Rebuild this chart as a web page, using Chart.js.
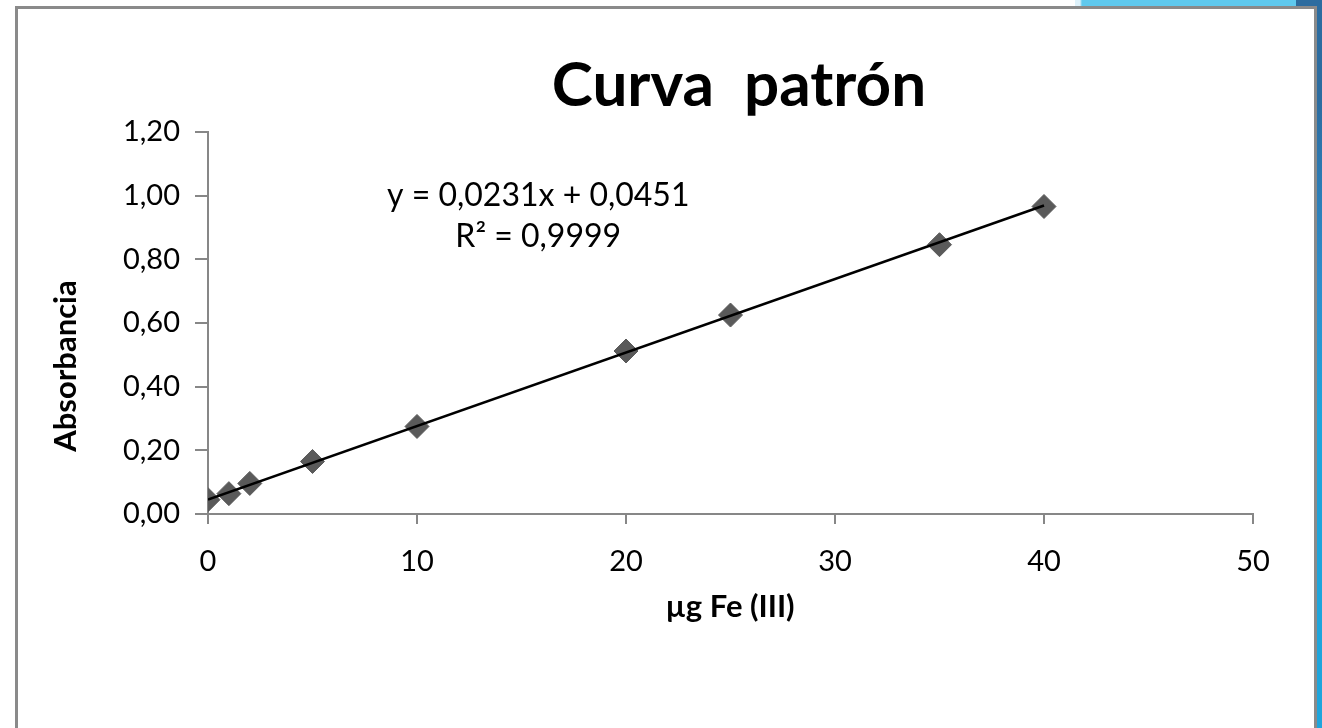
<!DOCTYPE html>
<html>
<head>
<meta charset="utf-8">
<script src="https://cdn.jsdelivr.net/npm/chart.js@4"></script>
<style>
  html, body { margin: 0; padding: 0; width: 1322px; height: 728px; overflow: hidden; background: #ffffff; }
  #fondo { position: absolute; left: 0; top: 0; width: 1322px; height: 728px;
    background: linear-gradient(180deg, #2c6ca0 0px, #2c6ca0 100px, #2f8dcb 280px, #1fa5dc 420px, #1fa5dc 728px) right top / 8px 728px no-repeat,
                linear-gradient(90deg, #ffffff 0px, #ffffff 1075px, #def2fb 1075px, #def2fb 1080px, #5fc9ee 1082px, #5fc9ee 1296px, #2d6c9f 1296px) left top / 1322px 8px no-repeat,
                #ffffff; }
  #marco { position: absolute; left: 15px; top: 6px; width: 1296px; height: 760px;
    border: 3px solid #8a8a8a; background: #ffffff; }
  canvas { position: absolute; left: 0; top: 0; }
</style>
</head>
<body>
<div id="fondo"></div>
<div id="marco"></div>
<canvas id="curva" width="1322" height="728"></canvas>
<script>
// datos de la curva patrón
const microgramos = [0, 1, 2, 5, 10, 20, 25, 35, 40];
const absorbancia = [0.045, 0.064, 0.096, 0.165, 0.275, 0.512, 0.625, 0.846, 0.966];

// línea de tendencia (extremos)
const tendenciaX = [0, 40];
const tendenciaY = [0.0451, 0.9691];

const ecuacion = ['y = 0,0231x + 0,0451', 'R² = 0,9999'];
const titulo = 'Curva  patrón';
const tituloX = 'µg Fe (III)';
const tituloY = 'Absorbancia';

const fuente = 'Lato, "Open Sans", sans-serif';

// textos dibujados a mano (título, ejes, ecuación)
const textos = {
  id: 'textos',
  afterDraw(chart) {
    const ctx = chart.ctx;
    const xs = chart.scales.x, ys = chart.scales.y;
    ctx.save();
    ctx.fillStyle = '#000000';
    ctx.textAlign = 'center';
    ctx.textBaseline = 'middle';

    ctx.font = 'bold 62px ' + fuente;
    ctx.fillText(titulo, 739, 86);

    ctx.font = 'bold 31px ' + fuente;
    ctx.fillText(tituloX, 730, 607);

    ctx.save();
    ctx.translate(66, 366);
    ctx.rotate(-Math.PI / 2);
    ctx.font = 'bold 31px ' + fuente;
    ctx.fillText(tituloY, 0, 0);
    ctx.restore();

    ctx.font = '32px ' + fuente;
    const cx = xs.getPixelForValue(15.8);
    ctx.fillText(ecuacion[0], cx, ys.getPixelForValue(1.0));
    ctx.fillText(ecuacion[1], cx, ys.getPixelForValue(0.87));
    ctx.restore();
  }
};

const ctx = document.getElementById('curva').getContext('2d');

const grafico = new Chart(ctx, {
  type: 'scatter',
  data: {
    datasets: [
      {
        label: 'Tendencia',
        type: 'line',
        data: tendenciaX.map((x, i) => ({ x: x, y: tendenciaY[i] })),
        borderColor: '#000000',
        borderWidth: 2.5,
        pointRadius: 0,
        fill: false,
        order: 1
      },
      {
        label: 'Absorbancia',
        data: microgramos.map((x, i) => ({ x: x, y: absorbancia[i] })),
        pointStyle: 'rectRot',
        pointRadius: 12,
        backgroundColor: '#5a5a5a',
        borderColor: '#5a5a5a',
        borderWidth: 1,
        order: 2
      }
    ]
  },
  options: {
    responsive: false,
    animation: false,
    layout: { padding: { top: 132, right: 69, bottom: 0, left: 0 } },
    plugins: {
      legend: { display: false },
      tooltip: { enabled: false }
    },
    scales: {
      x: {
        type: 'linear',
        min: 0,
        max: 50,
        afterFit(scale) { scale.height = 214; },
        border: { display: true, color: '#878787', width: 2 },
        grid: { display: true, drawOnChartArea: false, drawTicks: true, tickLength: 10, color: '#878787', lineWidth: 2 },
        ticks: {
          stepSize: 10,
          padding: 20,
          color: '#000000',
          font: { family: fuente, size: 29 },
          maxRotation: 0
        }
      },
      y: {
        min: 0,
        max: 1.2,
        afterFit(scale) { scale.width = 208; },
        border: { display: true, color: '#878787', width: 2 },
        grid: { display: true, drawOnChartArea: false, drawTicks: true, tickLength: 13, color: '#878787', lineWidth: 2 },
        ticks: {
          stepSize: 0.2,
          padding: 15,
          color: '#000000',
          font: { family: fuente, size: 29 },
          callback: (v) => v.toFixed(2).replace('.', ',')
        }
      }
    }
  },
  plugins: [textos]
});
</script>
</body>
</html>
